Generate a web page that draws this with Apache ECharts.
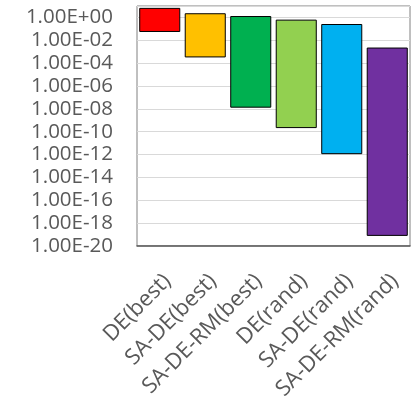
<!DOCTYPE html>
<html>
<head>
<meta charset="utf-8">
<script src="https://cdn.jsdelivr.net/npm/echarts@6/dist/echarts.min.js"></script>
<style>html,body{margin:0;padding:0;background:#fff}#c{width:417px;height:405px}</style>
</head>
<body>
<div id="c"></div>
<script>
var categories = ['DE(best)', 'SA-DE(best)', 'SA-DE-RM(best)', 'DE(rand)', 'SA-DE(rand)', 'SA-DE-RM(rand)'];
var highValues = [6.2, 2.1, 1.2, 0.58, 0.24, 2.1e-3];
var lowValues = [0.059, 3.5e-4, 1.4e-8, 2.3e-10, 1.2e-12, 8.5e-20];
var barColors = ['#FF0000', '#FFC000', '#00B050', '#92D050', '#00B0F0', '#7030A0'];

var data = categories.map(function (c, i) { return [i, lowValues[i], highValues[i]]; });

function fmt(v) {
  var e = Math.round(Math.log10(v));
  if (e > 0) return '';
  var a = Math.abs(e);
  return '1.00E' + (e < 0 ? '-' : '+') + (a < 10 ? '0' + a : '' + a);
}

var chart = echarts.init(document.getElementById('c'), null, {renderer: 'canvas'});
chart.setOption({
  animation: false,
  grid: {left: 137, right: 7, top: 6, bottom: 159, show: true, borderColor: '#808080', borderWidth: 1},
  xAxis: {
    type: 'category',
    data: categories,
    axisLine: {show: true, lineStyle: {color: '#595959', width: 1.5}},
    axisTick: {show: false},
    axisLabel: {rotate: 45, interval: 0, margin: 24, verticalAlign: 'top', color: '#595959', fontFamily: 'Open Sans', fontSize: 22}
  },
  yAxis: {
    type: 'log',
    logBase: 10,
    min: 1e-20,
    max: 10,
    interval: 2,
    axisLine: {show: false},
    axisTick: {show: false},
    splitLine: {lineStyle: {color: '#D9D9D9', width: 1}},
    axisLabel: {formatter: fmt, margin: 24, color: '#595959', fontFamily: 'Open Sans', fontSize: 20.5}
  },
  series: [{
    type: 'custom',
    data: data,
    encode: {x: 0, y: [1, 2]},
    renderItem: function (params, api) {
      var idx = api.value(0);
      var pLow = api.coord([idx, api.value(1)]);
      var pHigh = api.coord([idx, api.value(2)]);
      var w = api.size([1, 0])[0] * 0.88;
      return {
        type: 'rect',
        shape: {x: pLow[0] - w / 2, y: pHigh[1], width: w, height: pLow[1] - pHigh[1]},
        style: {fill: barColors[params.dataIndex], stroke: '#000', lineWidth: 1}
      };
    }
  }]
});
</script>
</body>
</html>
